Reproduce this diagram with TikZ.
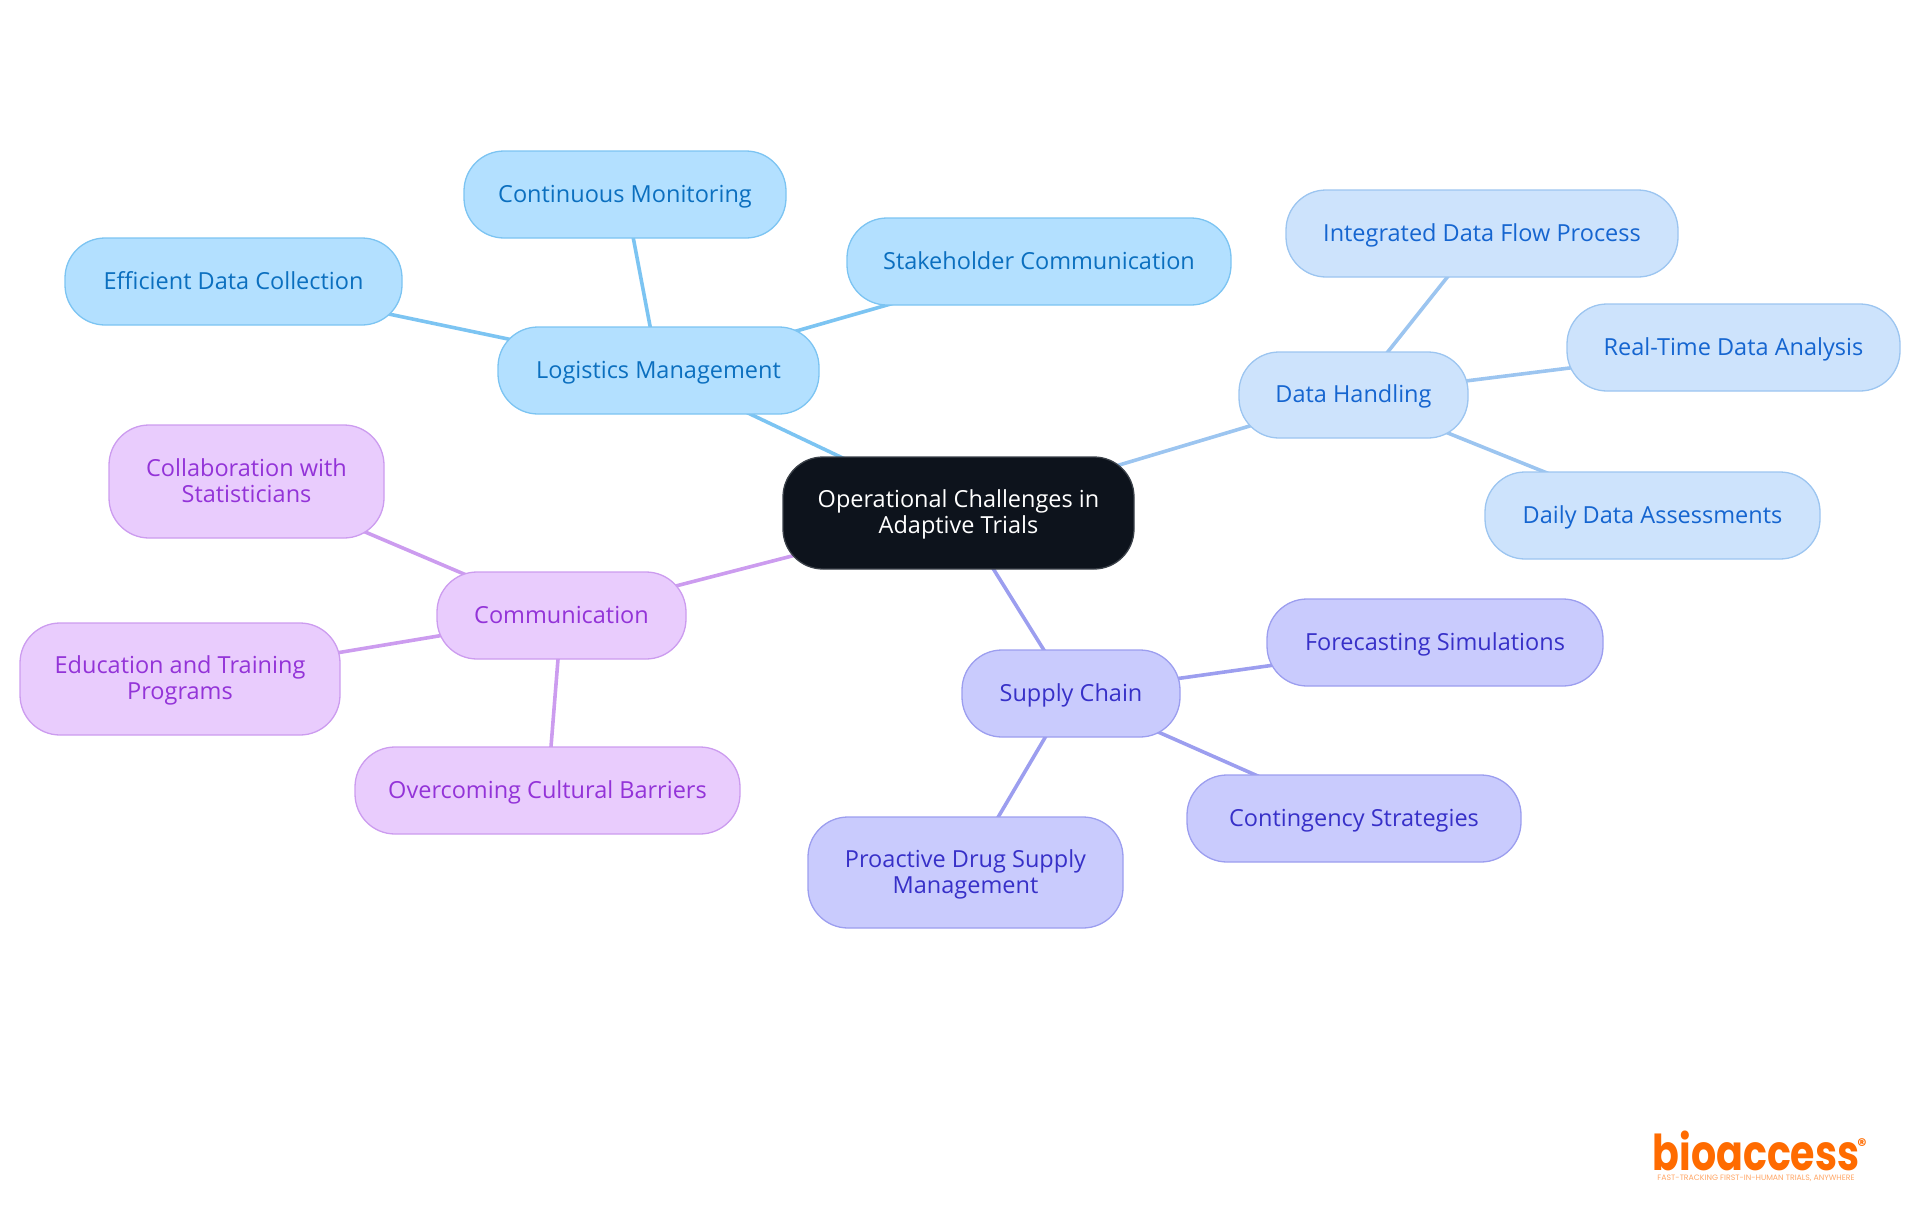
\documentclass[tikz,border=0pt]{standalone}
\usepackage{fontspec}
\setmainfont{Open Sans}
\newfontfamily\logofont{Poppins}
\usetikzlibrary{backgrounds,calc}
\definecolor{rootfill}{HTML}{0D131C}\definecolor{rootline}{HTML}{3B4149}
\definecolor{lfill}{HTML}{B3E0FF}\definecolor{lline}{HTML}{7CC4F2}\definecolor{ltext}{HTML}{0B6FBF}
\definecolor{dfill}{HTML}{CDE3FC}\definecolor{dline}{HTML}{9CC5F0}\definecolor{dtext}{HTML}{1565D0}
\definecolor{sfill}{HTML}{C9CBFD}\definecolor{sline}{HTML}{9C9EEF}\definecolor{stext}{HTML}{3730C8}
\definecolor{cfill}{HTML}{E9CCFD}\definecolor{cline}{HTML}{CC9CEF}\definecolor{ctext}{HTML}{9333D8}
\definecolor{logoor}{HTML}{FF6B00}
\tikzset{
  mm/.style={rectangle,rounded corners=40pt,line width=1.3pt,align=center,inner sep=0pt,
    font=\fontsize{23.5}{26}\selectfont},
  rootnode/.style={mm,fill=rootfill,draw=rootline,text=white},
  lnode/.style={mm,fill=lfill,draw=lline,text=ltext},
  dnode/.style={mm,fill=dfill,draw=dline,text=dtext},
  snode/.style={mm,fill=sfill,draw=sline,text=stext},
  cnode/.style={mm,fill=cfill,draw=cline,text=ctext},
  edge/.style={line width=3.6pt},
}
% name, x0, y0, x1, y1, style, text
\newcommand{\boxnode}[7]{%
  \node[#6,minimum width=#4pt-#2pt,minimum height=#5pt-#3pt] (#1) at ({(#2+#4)/2},{(#3+#5)/2}) {\rule{0pt}{23pt}#7\strut};}
\begin{document}
\begin{tikzpicture}[x=1pt,y=-1pt]
\useasboundingbox (0,0) rectangle (1920,1215);
\boxnode{root}{783}{457}{1134}{569}{rootnode}{Operational Challenges in\\Adaptive Trials}
\boxnode{log}{498}{327}{819}{414}{lnode}{Logistics Management}
\boxnode{mon}{464}{151}{786}{238}{lnode}{Continuous Monitoring}
\boxnode{eff}{65}{238}{402}{325}{lnode}{Efficient Data Collection}
\boxnode{sta}{847}{218}{1231}{305}{lnode}{Stakeholder Communication}
\boxnode{dat}{1239}{352}{1468}{438}{dnode}{Data Handling}
\boxnode{int}{1286}{190}{1678}{277}{dnode}{Integrated Data Flow Process}
\boxnode{rea}{1567}{304}{1900}{391}{dnode}{Real-Time Data Analysis}
\boxnode{dai}{1485}{472}{1820}{559}{dnode}{Daily Data Assessments}
\boxnode{sup}{962}{650}{1180}{737}{snode}{Supply Chain}
\boxnode{for}{1267}{599}{1603}{686}{snode}{Forecasting Simulations}
\boxnode{con}{1187}{775}{1521}{862}{snode}{Contingency Strategies}
\boxnode{pro}{808}{817}{1123}{928}{snode}{Proactive Drug Supply\\Management}
\boxnode{com}{437}{572}{686}{659}{cnode}{Communication}
\boxnode{col}{109}{425}{384}{538}{cnode}{Collaboration with\\Statisticians}
\boxnode{edu}{20}{623}{340}{735}{cnode}{Education and Training\\Programs}
\boxnode{ove}{355}{747}{740}{834}{cnode}{Overcoming Cultural Barriers}
\begin{scope}[on background layer]
  \draw[edge,lline] (root.center)--(log.center) (log.center)--(mon.center) (log.center)--(eff.center) (log.center)--(sta.center);
  \draw[edge,dline] (root.center)--(dat.center) (dat.center)--(int.center) (dat.center)--(rea.center) (dat.center)--(dai.center);
  \draw[edge,sline] (root.center)--(sup.center) (sup.center)--(for.center) (sup.center)--(con.center) (sup.center)--(pro.center);
  \draw[edge,cline] (root.center)--(com.center) (com.center)--(col.center) (com.center)--(edu.center) (com.center)--(ove.center);
\end{scope}
\node[anchor=base,inner sep=0pt,text=logoor,yscale=1.25,font=\logofont\bfseries\fontsize{39.5}{40}\selectfont] (logo) at (1756,1170) {bioaccess};
\node[inner sep=0pt,text=logoor,font=\logofont\bfseries\fontsize{18}{18}\selectfont] (reg) at (1862,1145) {®};
\node[inner sep=0pt,text=logoor!60,font=\logofont\fontsize{7.8}{8}\selectfont] (tag) at (1756,1178) {FAST-TRACKING FIRST-IN-HUMAN TRIALS, ANYWHERE};
\end{tikzpicture}
\end{document}
